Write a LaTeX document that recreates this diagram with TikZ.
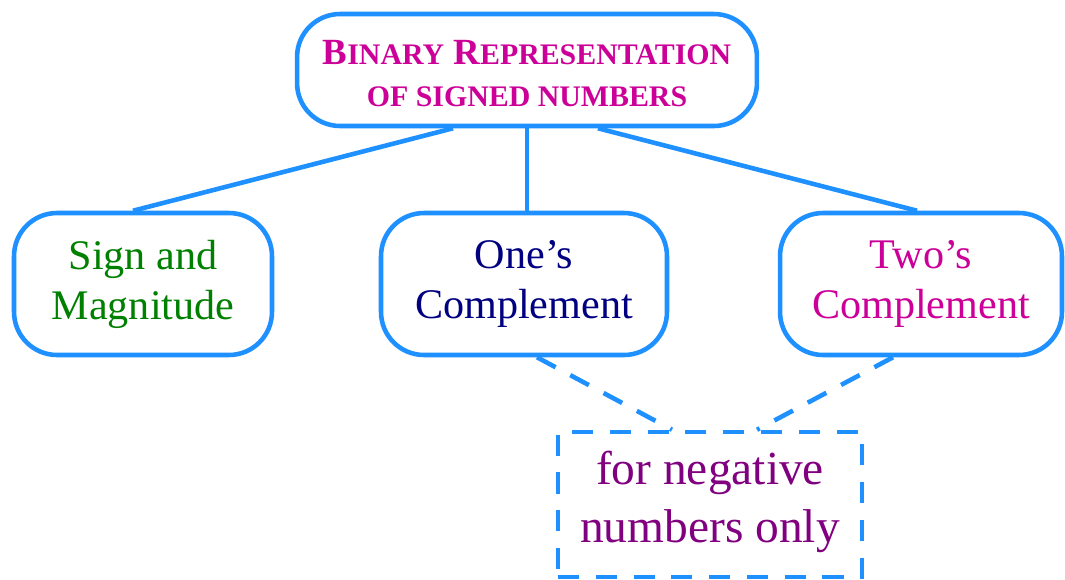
\documentclass[tikz,border=0pt]{standalone}
\usepackage{fontspec}
\setmainfont{Liberation Serif}
\usepackage{xcolor}
\usetikzlibrary{positioning}

\definecolor{linkblue}{RGB}{30,144,255}
\definecolor{titlemag}{RGB}{204,0,153}
\definecolor{signgreen}{RGB}{0,128,0}
\definecolor{onesnavy}{RGB}{0,0,128}
\definecolor{notepurple}{RGB}{128,0,128}

% small capitals by hand (the serif font has none)
\newcommand{\lowcaps}[1]{{\fontsize{17}{24}\selectfont #1}}

\begin{document}
\begin{tikzpicture}[
    x=0.02cm, y=-0.02cm,
    topic/.style={rectangle, rounded corners=0.86cm, draw=linkblue, line width=2.6pt, fill=white, minimum width=9.2cm, minimum height=2.24cm, align=center, font=\fontsize{21}{24}\selectfont\bfseries, text=titlemag},
    branch/.style={rectangle, rounded corners=0.86cm, draw=linkblue, line width=2.6pt, fill=white, minimum height=2.84cm, align=center, font=\fontsize{24}{28.5}\selectfont},
    note/.style={rectangle, draw=linkblue, line width=2.6pt, dash pattern=on 12pt off 9.5pt, minimum width=6.08cm, minimum height=2.9cm, align=center, font=\fontsize{27}{33}\selectfont, text=notepurple},
    link/.style={draw=linkblue, line width=2.6pt},
    hint/.style={draw=linkblue, line width=2.6pt, dash pattern=on 12pt off 9.5pt}
]
\useasboundingbox (0,0) rectangle (1065,579);

% Root
\node[topic] (root) at (527,70) {\rule{0pt}{18pt}B\lowcaps{INARY} R\lowcaps{EPRESENTATION}\\\lowcaps{OF SIGNED NUMBERS}};

% The three representations
\node[branch, minimum width=5.16cm, text=signgreen] (sign) at (143,284) {Sign and\\Magnitude};
\node[branch, minimum width=5.72cm, text=onesnavy] (ones) at (524,284) {One's\\Complement};
\node[branch, minimum width=5.64cm, text=titlemag] (twos) at (921,284) {Two's\\Complement};

% Remark below
\node[note] (neg) at (710,504.5) {for negative\\numbers only\rule[-9pt]{0pt}{9pt}};

% Tree edges
\draw[link] ([xshift=-1.48cm]root.south) -- ([xshift=-0.2cm]sign.north);
\draw[link] (root.south) -- (root.south |- ones.north);
\draw[link] ([xshift=1.42cm]root.south) -- ([xshift=-0.08cm]twos.north);

% Dashed hints
\draw[hint] ([xshift=0.26cm]ones.south) -- ([xshift=-0.76cm]neg.north);
\draw[hint] ([xshift=-0.56cm]twos.south) -- ([xshift=0.94cm]neg.north);
\end{tikzpicture}
\end{document}
